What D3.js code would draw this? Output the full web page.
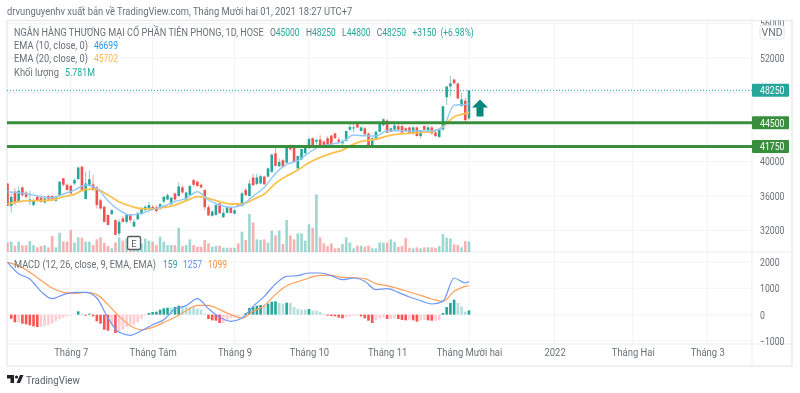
<!DOCTYPE html>
<html><head><meta charset="utf-8">
<script src="https://cdn.jsdelivr.net/npm/d3@7"></script>
<style>
html,body{margin:0;background:#fff}
svg{display:block;filter:blur(0.45px)}
text{font-family:Roboto,"Open Sans",sans-serif;font-size:10.5px;fill:#6b6f78}
</style></head><body><svg id="c" width="800" height="393"></svg>
<script>
const ohlc=[
[37450,37450,34850,34850],[34850,36300,34050,35900],[36500,36900,34950,35150],[35350,37100,35200,36600],[37000,37100,35900,36100],
[36400,36600,35700,35900],[35350,36600,34950,35600],[34950,35700,34750,35450],[35900,36100,35350,35450],[35800,36100,35250,35350],
[35250,36000,35150,35700],[36000,36100,35450,35600],[36000,36100,35400,35550],[35450,36000,35350,35850],[36100,37750,36050,37650],
[38050,38100,37100,37300],[37300,37450,36600,36700],[37200,37300,36250,36300],[37450,38050,37250,37850],[37950,39400,37900,39300],
[39400,39500,36500,36600],[35650,38800,35650,37450],[37300,38950,37150,37950],[37350,38450,36600,36700],[37000,37150,34550,34950],
[35500,35700,34400,34550],[34750,34850,32950,33000],[33800,33900,32550,32650],[33900,34450,33800,34350],[33200,33300,31450,31500],
[31650,33300,31350,33000],[33400,33700,32900,33000],[33000,33850,32800,33800],[33800,33850,32900,33200],[32450,33300,32350,33000],
[33300,34200,33200,34000],[33900,34700,33800,34450],[34350,34950,34200,34750],[34550,35350,34350,34950],[34750,34950,34350,34500],
[34700,34950,34050,34250],[34550,35200,34350,35050],[35350,36050,35150,35900],[35600,36300,35550,36100],[35050,35900,34900,35800],
[36300,36400,35450,35600],[36000,37550,35900,37100],[37000,37250,36300,36400],[35600,36500,35450,36400],[36100,37300,36050,37150],
[37850,37950,37100,37300],[37650,37800,37100,37150],[37300,37450,36900,37000],[36700,36750,34350,34700],[34700,34950,33700,33750],
[33700,34350,33600,34200],[33800,35050,33700,34950],[35150,35250,33900,34000],[33550,34550,33450,34050],[34050,34850,33950,34700],
[34700,34850,33950,34050],[33950,34500,33900,34350],[34950,35050,34800,34850],[34850,36500,34750,36300],[36700,36900,36050,36100],
[36000,37850,35900,37450],[38150,38550,37150,37250],[37400,38600,37250,38150],[37450,38450,37350,38300],[38250,38350,37300,37350],
[38250,39300,38150,39200],[38800,40900,38700,40800],[40950,41800,39400,39500],[39450,40350,39350,39950],[40150,40300,39350,39400],
[39850,41650,39800,41650],[41900,42000,41300,41400],[41650,41800,39950,39950],[39200,40650,39100,40650],[40250,41450,40150,41450],
[40950,41800,40850,41650],[41650,42800,41400,42600],[42700,42800,41600,41650],[42300,42650,41950,42500],[42550,43050,41800,41900],
[42300,42450,41600,41800],[42700,42900,41800,41900],[43000,43100,41950,42000],[43250,43350,42600,42700],[42550,42800,42200,42300],
[42100,42500,41900,42400],[42400,43550,42350,43550],[43700,44450,43500,44000],[43850,44400,43350,43950],[44400,44550,43900,43950],
[43550,44100,43450,43950],[43850,44000,43050,43150],[43250,43350,41850,41900],[41800,42800,41700,42700],[42700,43550,42600,43450],
[43450,44450,43400,44350],[44200,45000,44100,44900],[44750,44900,43300,43350],[43450,43950,43400,43850],[43700,44450,43600,44200],
[44100,44350,43650,43700],[44100,44250,43300,43350],[43850,43950,43500,43550],[43950,44050,43200,43250],[43250,44050,43150,43950],
[43950,44050,42900,42950],[42950,43700,42650,43650],[44100,44200,43650,43700],[43650,44200,43500,43950],[43950,44100,43150,43250],
[43350,43500,42850,42950],[42850,43700,42750,43650],[43700,46450,43600,46400],[47450,48700,46550,48700],[48700,49900,47500,49050],
[49500,49550,49050,49050],[49050,49100,47250,47300],[46450,47950,46350,47200],[47050,47400,44600,44800],[45000,48250,44800,48250]];
const volumes=[
5.4,5.8,3.7,5.8,3.9,3.9,6.1,4.0,2.8,3.5,
3.9,2.8,8.75,2.8,10.5,5.8,5.8,11.9,5.4,8.05,
7.9,5.8,5.8,4.0,7,8.05,5.25,3.5,2.3,5.4,
8.05,6.3,7.5,5.8,1.4,4.9,4.9,7.5,6.3,5.8,
4,8.4,5.8,4,4,4,13.1,3.5,4,7,
4,3.15,3.15,6.65,4.9,3.15,3.5,3.7,2.6,2.6,
2.6,2.6,4.9,11,6.65,20.3,15.9,7,6.65,7,
5.25,11.55,9.1,11.55,4.55,17.15,9.1,7,10.15,10.15,
6.3,14.9,13.1,30.6,8.05,4.9,3.5,4.9,2.3,2.6,
4.55,8.05,5.4,2.3,3.7,3.7,3.15,3.7,2.3,2.3,
5.4,5.25,5.4,7,5.8,3,3.5,7.7,2.6,2.3,
2.8,2.3,2.8,2.8,2.8,2.6,3.5,9.8,7.9,7.5,
4.4,4,2.8,6.1,5.781];
const lineBars=[0,3,6,9,12,15,18,21,24,27,30,33,36,39,42,45,48,51,54,57,60,63,66,69,72,75,78,81,84,87,90,93,96,99,102,105,108,111,114,117,120,123,124];
const ema10=[36500,36380,36190,35920,35805,36230,36690,37270,36890,35455,34375,33795,33990,34450,34840,35340,35730,36500,35535,34955,34685,34955,35990,36990,38620,39660,40090,41015,41790,42020,42290,43065,42985,42950,43570,43570,43530,43570,43530,43950,46540,46620,46699];
const ema20=[35070,35340,35455,35455,35535,35920,36190,36770,36770,36115,35340,34840,34530,34490,34685,34955,35455,35920,35730,35340,35070,35070,35600,36220,37460,38310,39005,39855,40475,40940,41325,42020,42410,42560,42950,43180,43255,43375,43450,44030,45190,45575,45702];
const macdLine=[1988,1557,1355,886,608,760,848,848,633,-127,-671,-785,-608,-380,-190,215,342,608,228,-101,-253,-127,317,696,1165,1456,1481,1583,1583,1481,1329,1393,1266,950,987,848,671,532,405,506,1393,1203,1257];
const signalLine=[1988,1861,1608,1304,1013,848,810,848,760,380,-63,-418,-570,-481,-291,-101,152,354,354,190,0,-127,127,342,772,1101,1253,1393,1494,1494,1418,1405,1367,1177,1101,987,861,734,595,506,886,1076,1099];
const histogram=[
0,-152,-291,-291,-342,-367,-405,-443,-468,-468,
-430,-392,-342,-253,-165,-114,-63,-25,0,127,
38,-38,38,-63,-253,-342,-570,-608,-380,-696,
-633,-570,-468,-380,-380,-291,-152,-25,63,101,
114,190,241,266,266,291,342,291,291,291,
291,228,190,38,-165,-215,-228,-317,-317,-228,
-127,-101,-63,-25,63,253,291,342,367,367,
418,494,506,443,418,456,443,291,215,190,
190,215,152,152,101,38,-38,-51,-63,-114,
-139,-101,-63,-38,-38,-63,-139,-228,-317,-215,
-152,-101,-165,-165,-139,-165,-203,-215,-190,-215,
-266,-215,-190,-215,-228,-228,-215,63,291,443,
570,443,317,114,159];
const monthBars=[17,39,61,81,102,124,147,168,188];
const monthLabels=["Tháng 7","Tháng Tám","Tháng 9","Tháng 10","Tháng 11","Tháng Mười hai","2022","Tháng Hai","Tháng 3"];
const gridPrices=[56000,52000,48000,44000,40000,36000,32000];
const priceLabels=[56000,52000,40000,36000,32000];
const macdTicks=[2000,1000,0,-1000];
const levels=[44500,41750];
const lastClose=48250;
const ohlcLegend=[["O","45000"],["H","48250"],["L","44800"],["C","48250"]];

const C={teal:"#26a69a",red:"#ef5350",green:"#388e3c",grid:"#f2f3f5",border:"#e9ebf0",e10:"#90c8f8",e20:"#fbc14f",macd:"#6e97f5",sig:"#ff9e5a",txt:"#6b6f78"};
const L={l:7,r:752,R:792,t:20.5,div:252,ax:344,b:366};
const svg=d3.select("#c");
const x=d3.scaleLinear().domain([0,124]).range([7.5,469]);
const y=d3.scaleLinear().domain([52000,32000]).range([58,230.5]);
const yV=d3.scaleLinear().domain([0,30.6]).range([252.7,194.4]);
const yM=d3.scaleLinear().domain([2000,-1000]).range([262,341]);
const bw=2.6;
// narrow a text horizontally about its own x position
const squeeze=(sel,k)=>sel.each(function(){const ox=+this.getAttribute("x")||0;d3.select(this).attr("transform",`translate(${ox*(1-k)},0) scale(${k},1)`);});

const defs=svg.append("defs");
defs.append("clipPath").attr("id","pricePane").append("rect").attr("x",L.l).attr("y",L.t).attr("width",L.r-L.l).attr("height",L.div-L.t);
defs.append("clipPath").attr("id","priceAxis").append("rect").attr("x",L.r).attr("y",L.t).attr("width",L.R-L.r).attr("height",L.div-L.t);
const grid=svg.append("g").attr("stroke",C.grid);
grid.selectAll(".v").data(monthBars).join("line").attr("x1",d=>x(d)).attr("x2",d=>x(d)).attr("y1",L.t).attr("y2",L.ax);
grid.selectAll(".h").data(gridPrices).join("line").attr("x1",L.l).attr("x2",L.r).attr("y1",d=>y(d)).attr("y2",d=>y(d));
grid.selectAll(".m").data(macdTicks).join("line").attr("x1",L.l).attr("x2",L.r).attr("y1",d=>yM(d)).attr("y2",d=>yM(d));
const fr=svg.append("g").attr("stroke",C.border).attr("fill","none");
fr.append("rect").attr("x",L.l).attr("y",L.t).attr("width",L.R-L.l).attr("height",L.b-L.t).attr("stroke-width",1.5);
[[L.r,L.r,L.t,L.b],[L.l,L.R,L.div,L.div],[L.l,L.R,L.ax,L.ax]].forEach(a=>fr.append("line").attr("x1",a[0]).attr("x2",a[1]).attr("y1",a[2]).attr("y2",a[3]));

const price=svg.append("g").attr("clip-path","url(#pricePane)");
price.selectAll(".vol").data(volumes).join("rect")
 .attr("x",(d,i)=>x(i)-bw/2).attr("width",bw).attr("y",d=>yV(d)).attr("height",d=>yV(0)-yV(d))
 .attr("fill",(d,i)=>ohlc[i][3]>=ohlc[i][0]?C.teal:C.red).attr("opacity",.45);
price.selectAll(".wick").data(ohlc).join("line")
 .attr("x1",(d,i)=>x(i)).attr("x2",(d,i)=>x(i)).attr("y1",d=>y(d[1])).attr("y2",d=>y(d[2]))
 .attr("stroke",d=>d[3]>=d[0]?C.teal:C.red).attr("stroke-width",.8).attr("opacity",.7);
price.selectAll(".body").data(ohlc).join("rect")
 .attr("x",(d,i)=>x(i)-bw/2).attr("width",bw)
 .attr("y",d=>y(Math.max(d[0],d[3]))).attr("height",d=>Math.max(1,Math.abs(y(d[0])-y(d[3]))))
 .attr("fill",d=>d[3]>=d[0]?C.teal:C.red);
const line=(sc)=>d3.line().x((d,i)=>x(lineBars[i])).y(d=>sc(d)).curve(d3.curveMonotoneX);
price.append("path").attr("d",line(y)(ema20)).attr("fill","none").attr("stroke",C.e20).attr("stroke-width",1.8);
price.append("path").attr("d",line(y)(ema10)).attr("fill","none").attr("stroke",C.e10).attr("stroke-width",1.4);
price.append("line").attr("x1",L.l).attr("x2",L.r).attr("y1",y(lastClose)).attr("y2",y(lastClose)).attr("stroke",C.teal).attr("stroke-dasharray","1 2");
price.selectAll(".lvl").data(levels).join("line").attr("x1",L.l).attr("x2",L.r).attr("y1",d=>y(d)).attr("y2",d=>y(d)).attr("stroke",C.green).attr("stroke-width",3);
const ax0=x(124)+11, ay0=y(48000);
svg.append("path").attr("fill","#00897b").attr("d",`M${ax0} ${ay0+7}l8 8h-4.5v9h-7v-9h-4.5z`);
const em=svg.append("g").attr("transform",`translate(${x(34)},243)`);
em.append("rect").attr("x",-6.5).attr("y",-6.5).attr("width",13).attr("height",13).attr("rx",1.5).attr("fill","#fff").attr("stroke","#5a5d66").attr("stroke-width",1.4);
em.append("text").attr("text-anchor","middle").attr("y",3.5).attr("style","font-size:9.5px;fill:#5a5d66").text("E");

svg.selectAll(".hist").data(histogram).join("rect")
 .attr("x",(d,i)=>x(i)-bw/2).attr("width",bw)
 .attr("y",d=>d>=0?yM(d):yM(0)).attr("height",d=>Math.abs(yM(d)-yM(0)))
 .attr("fill",(d,i)=>{const p=i?histogram[i-1]:0;return d>=0?(d>p?C.teal:"#b2dfdb"):(d<p?"#ff5252":"#ffcdd2");});
svg.append("path").attr("d",line(yM)(signalLine)).attr("fill","none").attr("stroke",C.sig).attr("stroke-width",1.2);
svg.append("path").attr("d",line(yM)(macdLine)).attr("fill","none").attr("stroke",C.macd).attr("stroke-width",1.2);

const axStyle=`font-family:Roboto;font-size:10.5px;fill:${C.txt}`;
const pa=svg.append("g").attr("clip-path","url(#priceAxis)");
const pAxis=d3.axisRight(y).tickValues(priceLabels).tickSize(0).tickPadding(8).tickFormat(d3.format("d"));
pa.append("g").attr("transform",`translate(${L.r},0)`).call(pAxis).call(g=>{g.select(".domain").remove();g.selectAll("text").attr("style",axStyle).call(squeeze,.83);});
const mAxis=d3.axisRight(yM).tickValues(macdTicks).tickSize(0).tickPadding(8).tickFormat(d=>d<0?"−"+Math.abs(d):d);
svg.append("g").attr("transform",`translate(${L.r},0)`).call(mAxis).call(g=>{g.select(".domain").remove();g.selectAll("text").attr("style",axStyle).call(squeeze,.83);});
const tAxis=d3.axisBottom(x).tickValues(monthBars).tickSize(0).tickPadding(0).tickFormat((d,i)=>monthLabels[i]);
svg.append("g").attr("transform",`translate(0,${L.ax+5})`).call(tAxis).call(g=>{g.select(".domain").remove();g.selectAll("text").attr("style",axStyle).call(squeeze,.9);});

svg.append("rect").attr("x",760).attr("y",25.5).attr("width",24).attr("height",13.5).attr("rx",2).attr("fill","#fff").attr("stroke","#e3e5ea");
svg.append("text").attr("x",772).attr("y",36).attr("text-anchor","middle").text("VND");

const tag=(v,c)=>{const g=svg.append("g").attr("transform",`translate(${L.r},${y(v)})`);
 g.append("rect").attr("y",-6.5).attr("width",37).attr("height",13).attr("rx",1).attr("fill",c);
 g.append("text").attr("x",8).attr("y",4).attr("style","fill:#fff;font-size:10.5px").text(v).call(squeeze,.83);};
tag(lastClose,C.teal);levels.forEach(v=>tag(v,C.green));

// fit a text to a drawn width by horizontal scaling
const fit=(e,px,py,w)=>{const n=e.node().getComputedTextLength();e.attr("transform",`translate(${px},${py}) scale(${w/n},1)`);return e;};
const t=(px,py,s,c,w)=>{const e=svg.append("text").attr("style",c?`fill:${c}`:null).text(s);return fit(e,px,py,w);};
t(7,15,"drvunguyenhv xuất bản về TradingView.com, Tháng Mười hai 01, 2021 18:27 UTC+7",null,346);
t(14,35.5,"NGÂN HÀNG THƯƠNG MẠI CỔ PHẦN TIÊN PHONG, 1D, HOSE",null,250);
const nb="\u00a0";
const ol=svg.append("text");
ohlcLegend.forEach(([k,v],i)=>{ol.append("tspan").text((i?nb+nb+nb:"")+k);ol.append("tspan").attr("style",`fill:${C.teal}`).text(v);});
ol.append("tspan").attr("style",`fill:${C.teal}`).text(nb+nb+nb+"+3150"+nb+nb+"(+6.98%)");
fit(ol,270,35.5,204);
t(14,49,"EMA (10, close, 0)",null,74);t(94,49,"46699","#2196f3",24);
t(14,62,"EMA (20, close, 0)",null,74);t(94,62,"45702","#ffb74d",24);
t(14,76,"Khối lượng",null,45);t(65,76,"5.781M",C.teal,30);
t(14,268,"MACD (12, 26, close, 9, EMA, EMA)",null,142);t(163,268,"159",C.teal,14.5);t(183,268,"1257","#5b8ff9",19);t(208,268,"1099","#ff9040",19);

const lg=svg.append("g").attr("fill","#1f2126");
lg.append("path").attr("d","M7 375h7v8h-3.5v-4.5H7zM16.5 383l3.5-8h3.5l-3.5 8z");
lg.append("circle").attr("cx",16.5).attr("cy",377).attr("r",1.6);
const brand=svg.append("text").attr("style","font-size:11.5px;fill:#5b5e66").text("TradingView");fit(brand,26,383.5,54);
</script></body></html>
